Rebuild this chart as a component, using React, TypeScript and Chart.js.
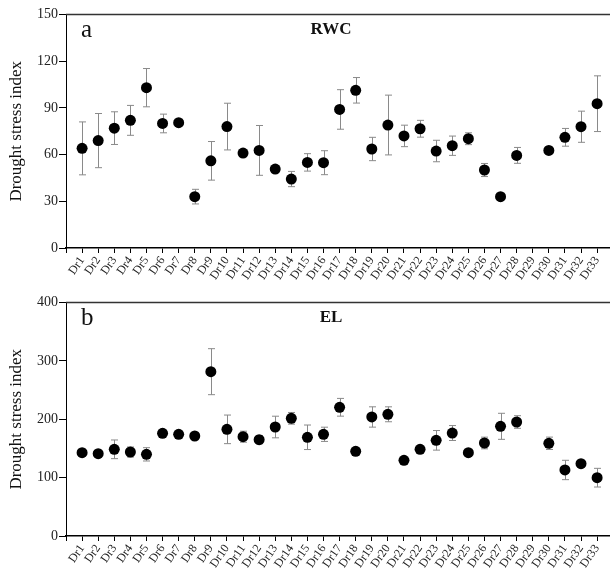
import React, { useEffect, useRef } from "react";
import { Chart, registerables } from "chart.js";

Chart.register(...registerables);

const categories = [
  "Dr1", "Dr2", "Dr3", "Dr4", "Dr5", "Dr6", "Dr7", "Dr8", "Dr9", "Dr10", "Dr11",
  "Dr12", "Dr13", "Dr14", "Dr15", "Dr16", "Dr17", "Dr18", "Dr19", "Dr20", "Dr21", "Dr22",
  "Dr23", "Dr24", "Dr25", "Dr26", "Dr27", "Dr28", "Dr29", "Dr30", "Dr31", "Dr32", "Dr33",
];

const rwcMean = [
  64, 69, 77, 82, 103, 80, 80.5, 33, 56, 78, 61, 62.7, 50.7, 44.3, 55, 54.8, 89,
  101.3, 63.6, 79, 72, 76.6, 62.3, 65.7, 70.2, 50.1, 33, 59.5, null, 62.7, 71.1, 77.9, 92.7,
];
const rwcErr = [
  17, 17.4, 10.5, 9.6, 12.3, 6, 1.2, 4.7, 12.4, 15, 1, 16, 2.2, 4.9, 5.6, 7.7, 12.7,
  8.2, 7.5, 19.2, 6.9, 5.4, 6.9, 6.2, 3.8, 4.2, 0.8, 5.1, null, 1, 5.7, 10, 17.9,
];

const elMean = [
  142.7, 141, 148.5, 143.9, 139.9, 175.9, 174.2, 171.3, 281.5, 182.7, 170.1, 165, 186.7,
  201.6, 169.1, 174.2, 220.5, 145.1, 203.9, 208.5, 129.7, 148.5, 163.9, 176.4, 142.7, 159.3,
  187.9, 195.3, null, 158.8, 113.1, 123.9, 99.9,
];
const elErr = [
  2, 2, 16, 8.6, 11.4, 2, 2, 2, 39.4, 24.5, 9.4, 7, 18.5, 10, 21, 12.2, 15.2, 5, 17.4,
  12.8, 2, 5, 16.8, 12.8, 4, 10, 22.3, 10.8, null, 10.6, 16.6, 5, 16,
];

const rwcTicks = { max: 150, step: 30 };
const elTicks = { max: 400, step: 100 };

const yTitle = "Drought stress index";
const FONT = "'Liberation Serif', 'Times New Roman', serif";

type PanelProps = {
  means: (number | null)[];
  errs: (number | null)[];
  yMax: number;
  yStep: number;
  letter: string;
  title: string;
  top: number;
  height: number;
  areaTop: number;
  areaBottom: number;
};

function Panel(p: PanelProps) {
  const ref = useRef<HTMLCanvasElement | null>(null);
  useEffect(() => {
    if (!ref.current) return;
    const data = p.means
      .map((m, i) => (m == null ? null : { x: i + 1, y: m }))
      .filter((d) => d !== null) as { x: number; y: number }[];

    const errorBars = {
      id: "errorBars",
      beforeDatasetsDraw(chart: any) {
        const { ctx } = chart;
        const xs = chart.scales.x;
        const ys = chart.scales.y;
        ctx.save();
        ctx.strokeStyle = "#8a8a8a";
        ctx.lineWidth = 1;
        p.means.forEach((m, i) => {
          const e = p.errs[i];
          if (m == null || !e || e < 1.5) return;
          const x = Math.round(xs.getPixelForValue(i + 1)) + 0.5;
          const y1 = ys.getPixelForValue(m + e);
          const y2 = ys.getPixelForValue(m - e);
          ctx.beginPath();
          ctx.moveTo(x, y1);
          ctx.lineTo(x, y2);
          ctx.moveTo(x - 3.5, y1);
          ctx.lineTo(x + 3.5, y1);
          ctx.moveTo(x - 3.5, y2);
          ctx.lineTo(x + 3.5, y2);
          ctx.stroke();
        });
        ctx.restore();
      },
    };

    const annotations = {
      id: "annotations",
      afterDraw(chart: any) {
        const { ctx, chartArea } = chart;
        ctx.save();
        ctx.strokeStyle = "#333";
        ctx.lineWidth = 1.5;
        ctx.beginPath();
        ctx.moveTo(chartArea.left, chartArea.top);
        ctx.lineTo(chart.width, chartArea.top);
        ctx.stroke();
        ctx.fillStyle = "#111";
        ctx.textBaseline = "middle";
        ctx.textAlign = "left";
        ctx.font = `25px ${FONT}`;
        ctx.fillText(p.letter, chartArea.left + 15, chartArea.top + 16);
        ctx.textAlign = "center";
        ctx.font = `bold 17px ${FONT}`;
        ctx.fillText(p.title, 331, chartArea.top + 15);
        ctx.restore();
      },
    };

    const chart = new Chart(ref.current, {
      type: "scatter",
      data: {
        datasets: [
          {
            data,
            backgroundColor: "#000",
            borderWidth: 0,
            pointRadius: 5.5,
            pointHoverRadius: 5.5,
          },
        ],
      },
      options: {
        animation: false,
        responsive: false,
        events: [],
        layout: { padding: { top: p.areaTop, left: 0, right: 0, bottom: 0 } },
        plugins: { legend: { display: false }, tooltip: { enabled: false } },
        scales: {
          x: {
            type: "linear",
            min: 0,
            max: 34,
            afterFit: (s: any) => {
              s.height = p.height - p.areaBottom;
            },
            ticks: {
              stepSize: 1,
              autoSkip: false,
              minRotation: 55,
              maxRotation: 55,
              padding: 1,
              color: "#222",
              font: { family: FONT, size: 12 },
              callback: (v: any) => categories[Number(v) - 1] ?? "",
            },
            grid: {
              display: true,
              drawOnChartArea: false,
              drawTicks: true,
              tickLength: 5,
              color: "#000",
            },
            border: { display: true, color: "#000", width: 1.5 },
          },
          y: {
            min: 0,
            max: p.yMax,
            afterFit: (s: any) => {
              s.width = 66;
            },
            ticks: {
              stepSize: p.yStep,
              padding: 1,
              color: "#222",
              font: { family: FONT, size: 14 },
            },
            grid: {
              display: true,
              drawOnChartArea: false,
              drawTicks: true,
              tickLength: 7,
              color: "#000",
            },
            border: { display: true, color: "#000", width: 1 },
            title: {
              display: true,
              text: yTitle,
              color: "#111",
              font: { family: FONT, size: 17 },
              padding: { top: 6, bottom: 0 },
            },
          },
        },
      },
      plugins: [errorBars, annotations],
    } as any);
    return () => chart.destroy();
  }, []);
  return (
    <canvas
      ref={ref}
      width={626}
      height={p.height}
      style={{ position: "absolute", left: 0, top: p.top, display: "block" }}
    />
  );
}

export default function App() {
  return (
    <div
      style={{
        position: "fixed",
        left: 0,
        top: 0,
        width: 610,
        height: 570,
        overflow: "hidden",
        background: "#fff",
      }}
    >
      <Panel
        means={rwcMean}
        errs={rwcErr}
        yMax={rwcTicks.max}
        yStep={rwcTicks.step}
        letter="a"
        title="RWC"
        top={0}
        height={300}
        areaTop={14.5}
        areaBottom={248}
      />
      <Panel
        means={elMean}
        errs={elErr}
        yMax={elTicks.max}
        yStep={elTicks.step}
        letter="b"
        title="EL"
        top={280}
        height={290}
        areaTop={22.5}
        areaBottom={256}
      />
    </div>
  );
}
